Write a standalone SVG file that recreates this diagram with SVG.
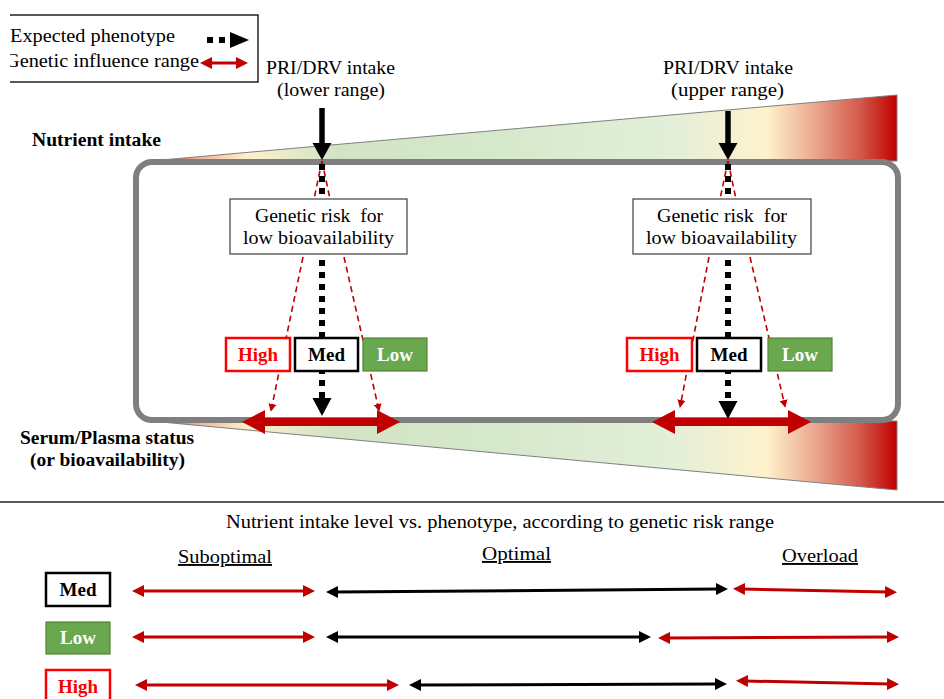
<svg xmlns="http://www.w3.org/2000/svg" width="944" height="699" viewBox="0 0 944 699">
<style>
  text { font-family: "Liberation Serif", "Times New Roman", serif; fill: #000; }
  .t18 { font-size: 19px; }
  .b17 { font-size: 18px; font-weight: bold; }
  .lvl { font-size: 19px; font-weight: bold; text-anchor: middle; }
  .red { fill: #ff0000; }
  .white { fill: #ffffff; }
  .dot { stroke: #000; stroke-width: 6; stroke-dasharray: 6 6; fill: none; }
  .rdash { stroke: #c00000; stroke-width: 1.6; stroke-dasharray: 6 4; fill: none; }
  .rarrow { stroke: #c00000; stroke-width: 3; fill: none; marker-start: url(#rh); marker-end: url(#rh); }
  .karrow { stroke: #000; stroke-width: 3; fill: none; marker-start: url(#kh); marker-end: url(#kh); }
  .wedge { stroke: #7f7f7f; stroke-width: 1; fill: url(#grad); }
  .gbox { fill: #fff; stroke: #404040; stroke-width: 1.2; }
  .boxHigh { fill: #fff; stroke: #ff0000; stroke-width: 2.5; }
  .boxMed { fill: #fff; stroke: #000; stroke-width: 2.5; }
  .boxLow { fill: #6aa84f; stroke: #548235; stroke-width: 1.2; }
  .big { fill: #c00000; }
</style>
<defs>
  <linearGradient id="grad" gradientUnits="userSpaceOnUse" x1="150" y1="0" x2="897" y2="0">
    <stop offset="0" stop-color="#c00000"/>
    <stop offset="0.06" stop-color="#eeb095"/>
    <stop offset="0.13" stop-color="#fdf0cc"/>
    <stop offset="0.245" stop-color="#d2e4c4"/>
    <stop offset="0.45" stop-color="#d5e8cb"/>
    <stop offset="0.7" stop-color="#e3efd8"/>
    <stop offset="0.826" stop-color="#fff2cc"/>
    <stop offset="0.89" stop-color="#eba890"/>
    <stop offset="0.95" stop-color="#d35a4c"/>
    <stop offset="1" stop-color="#c00000"/>
  </linearGradient>
  <marker id="rh" markerUnits="userSpaceOnUse" markerWidth="12" markerHeight="12" refX="3" refY="6" orient="auto-start-reverse">
    <path d="M0,0 L12,6 L0,12 Z" fill="#c00000"/>
  </marker>
  <marker id="kh" markerUnits="userSpaceOnUse" markerWidth="12" markerHeight="12" refX="3" refY="6" orient="auto-start-reverse">
    <path d="M0,0 L12,6 L0,12 Z" fill="#000"/>
  </marker>
  <marker id="rs" markerUnits="userSpaceOnUse" markerWidth="8" markerHeight="8" refX="2" refY="4" orient="auto">
    <path d="M0,0 L8,4 L0,8 Z" fill="#c00000"/>
  </marker>
  <clipPath id="legclip"><rect x="10" y="0" width="260" height="100"/></clipPath>
</defs>

<!-- Legend -->
<g id="legend" clip-path="url(#legclip)">
  <rect x="-5" y="15" width="263" height="67" fill="#fff" stroke="#000" stroke-width="1.3"/>
  <text class="t18" x="10" y="42" textLength="165" lengthAdjust="spacingAndGlyphs">Expected phenotype</text>
  <text class="t18" x="5" y="67" textLength="194" lengthAdjust="spacingAndGlyphs">Genetic influence range</text>
  <line x1="207" y1="40" x2="230" y2="40" class="dot" stroke-dasharray="6 7"/>
  <path d="M230,32 L249,40 L230,48 Z" fill="#000"/>
  <line x1="209" y1="63" x2="239" y2="63" class="rarrow"/>
</g>

<!-- Wedges (intake and status scales) -->
<g id="intake-scale">
  <polygon class="wedge" points="150,161 897,95 897,161"/>
</g>
<g id="status-scale">
  <polygon class="wedge" points="150,421 897,421 897,490"/>
</g>

<!-- Frame -->
<g id="frame">
  <rect x="136" y="162" width="762" height="258" rx="16" ry="16" fill="none" stroke="#7f7f7f" stroke-width="6"/>
</g>

<!-- Side labels -->
<g id="label-intake">
  <text class="b17" x="32" y="146" textLength="129" lengthAdjust="spacingAndGlyphs">Nutrient intake</text>
</g>
<g id="label-status">
  <text class="b17" x="20" y="444" textLength="174" lengthAdjust="spacingAndGlyphs">Serum/Plasma status</text>
  <text class="b17" x="30" y="466" textLength="155" lengthAdjust="spacingAndGlyphs">(or bioavailability)</text>
</g>

<g id="pri-lower">
  <text class="t18" x="266" y="74" textLength="129" lengthAdjust="spacingAndGlyphs">PRI/DRV intake</text>
  <text class="t18" x="277" y="96" textLength="108" lengthAdjust="spacingAndGlyphs">(lower range)</text>
</g>
<g id="pri-upper">
  <text class="t18" x="663" y="74" textLength="130" lengthAdjust="spacingAndGlyphs">PRI/DRV intake</text>
  <text class="t18" x="671" y="96" textLength="113" lengthAdjust="spacingAndGlyphs">(upper range)</text>
</g>

<!-- Connectors -->
<g id="connectors">
  <line x1="322" y1="108" x2="322" y2="145" stroke="#000" stroke-width="5.5"/>
  <path d="M312.5,143 L331.5,143 L322,160 Z" fill="#000"/>
  <line x1="728" y1="111" x2="728" y2="145" stroke="#000" stroke-width="5.5"/>
  <path d="M718.5,143 L737.5,143 L728,160 Z" fill="#000"/>

  <line x1="322" y1="161" x2="314" y2="199" class="rdash"/>
  <line x1="322" y1="161" x2="330" y2="199" class="rdash"/>
  <line x1="728" y1="161" x2="720" y2="199" class="rdash"/>
  <line x1="728" y1="161" x2="736" y2="199" class="rdash"/>

  <line x1="303" y1="257" x2="272" y2="406" class="rdash" marker-end="url(#rs)"/>
  <line x1="344" y1="257" x2="378" y2="406" class="rdash" marker-end="url(#rs)"/>
  <line x1="709" y1="257" x2="681" y2="402" class="rdash" marker-end="url(#rs)"/>
  <line x1="750" y1="257" x2="784" y2="402" class="rdash" marker-end="url(#rs)"/>

  <line x1="322" y1="164" x2="322" y2="398" class="dot"/>
  <path d="M312.5,398 L331.5,398 L322,416 Z" fill="#000"/>
  <line x1="728" y1="164" x2="728" y2="401" class="dot"/>
  <path d="M718.5,401 L737.5,401 L728,419 Z" fill="#000"/>

  <path class="big" d="M242,422 L265,410 L265,418 L377,418 L377,410 L400,422 L377,434 L377,426 L265,426 L265,434 Z"/>
  <path class="big" d="M652,422 L675,410 L675,418 L788,418 L788,410 L811,422 L788,434 L788,426 L675,426 L675,434 Z"/>
</g>

<!-- Lower-range nodes -->
<g id="risk-lower">
  <rect class="gbox" x="230" y="199" width="177" height="55"/>
  <text class="t18" x="255" y="222" textLength="128" lengthAdjust="spacingAndGlyphs" xml:space="preserve">Genetic risk  for</text>
  <text class="t18" x="243" y="244" textLength="151" lengthAdjust="spacingAndGlyphs">low bioavailability</text>
</g>
<g id="high-lower">
  <rect class="boxHigh" x="226" y="338" width="64" height="33"/>
  <text class="lvl red" x="258" y="361">High</text>
</g>
<g id="med-lower">
  <rect class="boxMed" x="295" y="338" width="63" height="33"/>
  <text class="lvl" x="326.5" y="361">Med</text>
</g>
<g id="low-lower">
  <rect class="boxLow" x="363" y="338" width="64" height="33"/>
  <text class="lvl white" x="395" y="361">Low</text>
</g>

<!-- Upper-range nodes -->
<g id="risk-upper">
  <rect class="gbox" x="633" y="199" width="178" height="55"/>
  <text class="t18" x="657" y="222" textLength="130" lengthAdjust="spacingAndGlyphs" xml:space="preserve">Genetic risk  for</text>
  <text class="t18" x="646" y="244" textLength="151" lengthAdjust="spacingAndGlyphs">low bioavailability</text>
</g>
<g id="high-upper">
  <rect class="boxHigh" x="627" y="338" width="65" height="33"/>
  <text class="lvl red" x="659.5" y="361">High</text>
</g>
<g id="med-upper">
  <rect class="boxMed" x="697" y="338" width="64" height="33"/>
  <text class="lvl" x="729" y="361">Med</text>
</g>
<g id="low-upper">
  <rect class="boxLow" x="768" y="338" width="64" height="33"/>
  <text class="lvl white" x="800" y="361">Low</text>
</g>

<!-- Separator -->
<line x1="0" y1="502" x2="944" y2="502" stroke="#595959" stroke-width="2"/>

<!-- Bottom table -->
<g id="table-title">
  <text font-size="18" x="226" y="528" textLength="548" lengthAdjust="spacingAndGlyphs">Nutrient intake level vs. phenotype, according to genetic risk range</text>
</g>
<g id="col-headers">
  <text class="t18" x="178" y="563" textLength="94" lengthAdjust="spacingAndGlyphs" text-decoration="underline">Suboptimal</text>
  <text class="t18" x="482" y="560" textLength="69" lengthAdjust="spacingAndGlyphs" text-decoration="underline">Optimal</text>
  <text class="t18" x="782" y="562" textLength="76" lengthAdjust="spacingAndGlyphs" text-decoration="underline">Overload</text>
</g>

<g id="row-med">
  <rect class="boxMed" x="46" y="573" width="64" height="33"/>
  <text class="lvl" x="78" y="596">Med</text>
</g>
<g id="row-low">
  <rect class="boxLow" x="46" y="622" width="64" height="32"/>
  <text class="lvl white" x="78" y="644">Low</text>
</g>
<g id="row-high">
  <rect class="boxHigh" x="46" y="670" width="64" height="33"/>
  <text class="lvl red" x="78" y="693">High</text>
</g>

<g id="range-arrows">
  <line class="rarrow" x1="141" y1="591" x2="306" y2="591"/>
  <line class="karrow" x1="335" y1="592" x2="719" y2="589"/>
  <line class="rarrow" x1="742" y1="589" x2="888" y2="592"/>

  <line class="rarrow" x1="141" y1="637" x2="306" y2="637"/>
  <line class="karrow" x1="335" y1="637" x2="642" y2="637"/>
  <line class="rarrow" x1="667" y1="638" x2="890" y2="637"/>

  <line class="rarrow" x1="144" y1="685" x2="390" y2="685"/>
  <line class="karrow" x1="418" y1="685" x2="718" y2="684"/>
  <line class="rarrow" x1="745" y1="681" x2="890" y2="684"/>
</g>
</svg>
